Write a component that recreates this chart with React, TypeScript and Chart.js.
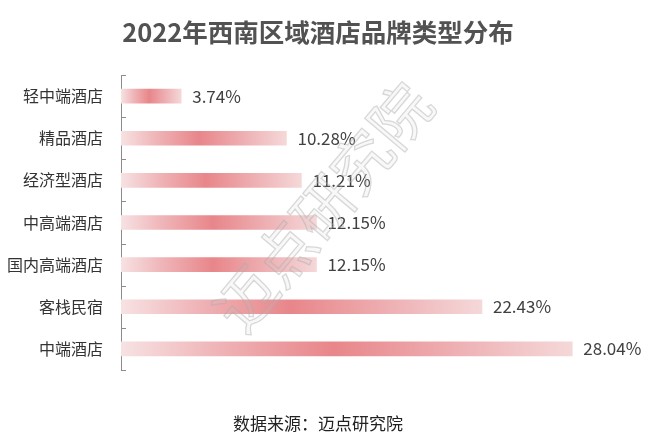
import React, { useEffect, useRef } from "react";
import { Chart, registerables } from "chart.js";

Chart.register(...registerables);

const categories = ["轻中端酒店", "精品酒店", "经济型酒店", "中高端酒店", "国内高端酒店", "客栈民宿", "中端酒店"];
const shares = [3.74, 10.28, 11.21, 12.15, 12.15, 22.43, 28.04];
const titleText = "2022年西南区域酒店品牌类型分布";
const sourceText = "数据来源：迈点研究院";
const watermarkText = "迈点研究院";

const FONT = "'Noto Sans CJK SC', 'Noto Sans', sans-serif";

const labelPlugin = {
  id: "valueLabels",
  afterDatasetsDraw(chart: any) {
    const ctx = chart.ctx;
    const meta = chart.getDatasetMeta(0);
    ctx.save();
    ctx.font = `17px ${FONT}`;
    ctx.fillStyle = "#404040";
    ctx.textAlign = "left";
    ctx.textBaseline = "middle";
    meta.data.forEach((el: any, i: number) => {
      ctx.fillText(shares[i].toFixed(2) + "%", el.x + 11, el.y);
    });
    ctx.restore();
  },
};

const stubPlugin = {
  id: "tickStubs",
  afterDraw(chart: any) {
    const y = chart.scales.y;
    const ctx = chart.ctx;
    const left = chart.chartArea.left;
    const n = categories.length;
    const step = n > 1 ? y.getPixelForValue(1) - y.getPixelForValue(0) : 0;
    ctx.save();
    ctx.strokeStyle = "#8c8c8c";
    ctx.lineWidth = 1;
    for (let i = 0; i <= n; i++) {
      const py = Math.round(y.getPixelForValue(0) + (i - 0.5) * step) + 0.5;
      ctx.beginPath();
      ctx.moveTo(left, py);
      ctx.lineTo(left + 5, py);
      ctx.stroke();
    }
    ctx.restore();
  },
};

const watermarkPlugin = {
  id: "watermark",
  afterDatasetsDraw(chart: any) {
    const ctx = chart.ctx;
    ctx.save();
    ctx.translate(323, 207);
    ctx.rotate((-50 * Math.PI) / 180);
    ctx.font = `60px ${FONT}`;
    ctx.textAlign = "center";
    ctx.textBaseline = "middle";
    ctx.strokeStyle = "rgba(170,170,170,0.45)";
    ctx.lineWidth = 1.3;
    ctx.strokeText(watermarkText, 0, 0);
    ctx.fillStyle = "rgba(200,200,200,0.12)";
    ctx.fillText(watermarkText, 0, 0);
    ctx.restore();
  },
};

export default function App() {
  const canvasRef = useRef<HTMLCanvasElement | null>(null);

  useEffect(() => {
    document.body.style.margin = "0";
    const canvas = canvasRef.current;
    if (!canvas) return;
    const chart = new Chart(canvas, {
      type: "bar",
      data: {
        labels: categories,
        datasets: [
          {
            data: shares,
            barThickness: 14,
            borderWidth: 0,
            backgroundColor: (c: any) => {
              const ch = c.chart;
              if (!ch.chartArea || c.raw == null) return "#eba0a3";
              const xs = ch.scales.x;
              const x0 = xs.getPixelForValue(0);
              const x1 = xs.getPixelForValue(c.raw);
              const g = ch.ctx.createLinearGradient(x0, 0, x1, 0);
              g.addColorStop(0, "#f7e2e3");
              g.addColorStop(0.22, "#efb3b6");
              g.addColorStop(0.47, "#e8868a");
              g.addColorStop(0.75, "#eeb1b4");
              g.addColorStop(1, "#f5d8d9");
              return g;
            },
          },
        ],
      },
      options: {
        indexAxis: "y",
        responsive: false,
        animation: false,
        layout: { padding: { left: 0, right: 18, top: 0, bottom: 0 } },
        scales: {
          x: {
            display: false,
            min: 0,
            max: 32,
          },
          y: {
            afterFit: (s: any) => {
              s.width = 121;
            },
            grid: { drawOnChartArea: false, drawTicks: false },
            border: { display: true, color: "#8c8c8c", width: 1 },
            ticks: {
              padding: 18,
              color: "#333333",
              font: { family: FONT, size: 16 },
            },
          },
        },
        plugins: {
          legend: { display: false },
          tooltip: { enabled: false },
          title: {
            display: true,
            text: titleText,
            color: "#525252",
            font: { family: FONT, size: 25.5, weight: "bold", lineHeight: 1.2 },
            padding: { top: 17, bottom: 27.4 },
          },
          subtitle: {
            display: true,
            position: "bottom",
            text: sourceText,
            color: "#222222",
            font: { family: FONT, size: 17, lineHeight: 1.2 },
            padding: { top: 43.8, bottom: 6.8 },
          },
        },
      } as any,
      plugins: [labelPlugin, stubPlugin, watermarkPlugin],
    });
    return () => chart.destroy();
  }, []);

  return (
    <div style={{ width: 654, height: 441, background: "#ffffff" }}>
      <canvas ref={canvasRef} width={654} height={441} style={{ display: "block" }} />
    </div>
  );
}
